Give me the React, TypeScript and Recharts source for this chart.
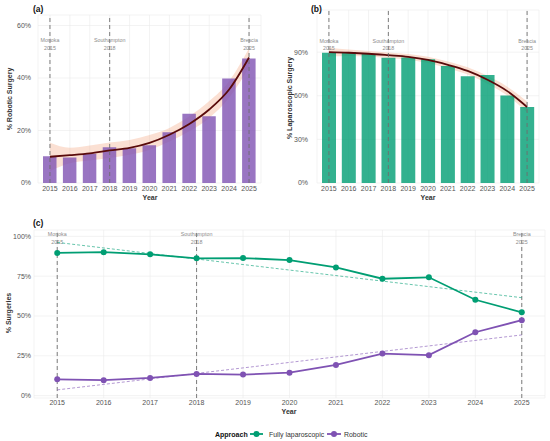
import React from 'react';
import {
  ComposedChart,
  LineChart,
  Bar,
  Area,
  Line,
  XAxis,
  YAxis,
  CartesianGrid,
  ReferenceLine,
} from 'recharts';

const years = [2015, 2016, 2017, 2018, 2019, 2020, 2021, 2022, 2023, 2024, 2025];

const robotic = [10.2, 9.7, 11.1, 13.6, 13.2, 14.4, 19.3, 26.4, 25.4, 39.8, 47.4];
const laparoscopic = [89.6, 90.1, 88.7, 86.2, 86.4, 85.1, 80.5, 73.4, 74.3, 60.2, 52.3];

// smoothed fits with their confidence band (a) and (b)
const roboticSmooth = [10.0, 10.6, 11.3, 12.4, 13.4, 15.3, 18.4, 22.5, 28.0, 35.6, 47.8];
const roboticLow = [4.5, 7.5, 8.6, 9.5, 10.8, 12.6, 15.8, 19.7, 24.8, 32.5, 44.0];
const roboticHigh = [15.3, 13.4, 14.3, 15.4, 16.4, 18.3, 21.0, 25.4, 31.2, 38.8, 51.3];

const lapSmooth = [90.0, 89.6, 88.9, 87.9, 86.8, 84.7, 81.3, 77.1, 71.0, 63.2, 52.3];
const lapLow = [87.0, 87.4, 87.0, 86.0, 84.8, 82.6, 79.0, 74.6, 68.3, 60.2, 48.5];
const lapHigh = [93.0, 91.8, 90.8, 89.8, 88.8, 86.8, 83.6, 79.6, 73.7, 66.2, 56.0];

// linear trend end points in panel (c)
const trendYears = [2015, 2025];
const lapTrend = [96.2, 61.5];
const robTrend = [3.6, 38.1];

const milestoneYears = [2015, 2018, 2025];
const milestoneNames = ['Morioka', 'Southampton', 'Brescia'];

const ticksA = [0, 20, 40, 60];
const ticksB = [0, 30, 60, 90];
const ticksC = [0, 25, 50, 75, 100];

const GREEN = '#009E73';
const PURPLE = '#7F52B3';
const FIT = '#5a0b0b';
const BAND = '#F4A582';
const FONT = '"Liberation Sans", Arial, sans-serif';

const data = years.map((year, i) => ({
  year,
  robotic: robotic[i],
  laparoscopic: laparoscopic[i],
  robSmooth: roboticSmooth[i],
  robBand: [roboticLow[i], roboticHigh[i]],
  lapSmooth: lapSmooth[i],
  lapBand: [lapLow[i], lapHigh[i]],
}));

const lapTrendData = trendYears.map((year, i) => ({ year, value: lapTrend[i] }));
const robTrendData = trendYears.map((year, i) => ({ year, value: robTrend[i] }));

const tickStyle = { fontSize: 7, fill: '#555', fontFamily: FONT };
const pct = (v: number) => `${v}%`;

const milestoneLabel = (name: string, year: number, dy1: number, dy2: number) => (props: any) => {
  const vb = props.viewBox || {};
  return (
    <g>
      <text x={vb.x} y={vb.y + dy1} textAnchor="middle" dominantBaseline="central" fontSize={5.3} fill="#8c8c8c" fontFamily={FONT}>
        {name}
      </text>
      <text x={vb.x} y={vb.y + dy2} textAnchor="middle" dominantBaseline="central" fontSize={5.3} fill="#8c8c8c" fontFamily={FONT}>
        {year}
      </text>
    </g>
  );
};

const milestones = (dy1: number, dy2: number) =>
  milestoneYears.map((y, i) => (
    <ReferenceLine
      key={y}
      x={y}
      stroke="#6e6e6e"
      strokeWidth={0.9}
      strokeDasharray="4 3"
      label={milestoneLabel(milestoneNames[i], y, dy1, dy2)}
    />
  ));

const PanelA = () => (
  <ComposedChart width={275} height={200} data={data} margin={{ top: 15, right: 14, bottom: 0, left: 0 }}>
    <CartesianGrid stroke="#ebebeb" strokeWidth={0.6} />
    <XAxis dataKey="year" axisLine={false} tickLine={false} tickSize={0} tickMargin={3} height={17} padding={{ left: 2, right: 2 }} tick={tickStyle} interval={0} />
    <YAxis domain={[0, 64]} ticks={ticksA} tickFormatter={pct} axisLine={false} tickLine={false} tickSize={0} tickMargin={7} width={38} tick={tickStyle} allowDataOverflow />
    <Bar dataKey="robotic" fill={PURPLE} fillOpacity={0.8} barSize={13.5} isAnimationActive={false} />
    <Area type="monotone" dataKey="robBand" stroke="none" fill={BAND} fillOpacity={0.35} isAnimationActive={false} />
    <Line type="monotone" dataKey="robSmooth" stroke={FIT} strokeWidth={1.8} dot={false} activeDot={false} isAnimationActive={false} />
    {milestones(25, 33)}
  </ComposedChart>
);

const PanelB = () => (
  <ComposedChart width={275} height={200} data={data} margin={{ top: 10, right: 11, bottom: 0, left: 0 }}>
    <CartesianGrid stroke="#ebebeb" strokeWidth={0.6} />
    <XAxis dataKey="year" axisLine={false} tickLine={false} tickSize={0} tickMargin={3} height={17} padding={{ left: 2, right: 2 }} tick={tickStyle} interval={0} />
    <YAxis domain={[0, 119]} ticks={ticksB} tickFormatter={pct} axisLine={false} tickLine={false} tickSize={0} tickMargin={9} width={42} tick={tickStyle} allowDataOverflow />
    <Bar dataKey="laparoscopic" fill={GREEN} fillOpacity={0.8} barSize={14} isAnimationActive={false} />
    <Area type="monotone" dataKey="lapBand" stroke="none" fill={BAND} fillOpacity={0.35} isAnimationActive={false} />
    <Line type="monotone" dataKey="lapSmooth" stroke={FIT} strokeWidth={1.8} dot={false} activeDot={false} isAnimationActive={false} />
    {milestones(31, 38)}
  </ComposedChart>
);

const PanelC = () => (
  <LineChart width={550} height={200} data={data} margin={{ top: 20, right: 5, bottom: 0, left: 0 }}>
    <CartesianGrid stroke="#ebebeb" strokeWidth={0.6} />
    <XAxis type="number" dataKey="year" domain={[2014.5, 2025.5]} ticks={years} axisLine={false} tickLine={false} tickSize={0} tickMargin={2} height={12} tick={tickStyle} interval={0} allowDataOverflow />
    <YAxis domain={[-1.5, 104]} ticks={ticksC} tickFormatter={pct} axisLine={false} tickLine={false} tickSize={0} tickMargin={3} width={34} tick={tickStyle} allowDataOverflow />
    {milestones(4, 12)}
    <Line data={lapTrendData} dataKey="value" stroke={GREEN} strokeOpacity={0.75} strokeWidth={0.8} strokeDasharray="3 2" dot={false} activeDot={false} isAnimationActive={false} />
    <Line data={robTrendData} dataKey="value" stroke={PURPLE} strokeOpacity={0.75} strokeWidth={0.8} strokeDasharray="3 2" dot={false} activeDot={false} isAnimationActive={false} />
    <Line dataKey="laparoscopic" stroke={GREEN} strokeWidth={1.8} dot={{ r: 3, fill: GREEN, stroke: GREEN, strokeWidth: 0 }} activeDot={false} isAnimationActive={false} />
    <Line dataKey="robotic" stroke={PURPLE} strokeWidth={1.8} dot={{ r: 3, fill: PURPLE, stroke: PURPLE, strokeWidth: 0 }} activeDot={false} isAnimationActive={false} />
  </LineChart>
);

const Titles = () => (
  <svg width={550} height={441} style={{ position: 'absolute', left: 0, top: 0, pointerEvents: 'none' }} fontFamily={FONT}>
    <text x={33} y={9} fontSize={8.5} fontWeight="bold" fill="#111" dominantBaseline="central">(a)</text>
    <text x={311} y={9} fontSize={8.5} fontWeight="bold" fill="#111" dominantBaseline="central">(b)</text>
    <text x={33} y={222.5} fontSize={8.5} fontWeight="bold" fill="#111" dominantBaseline="central">(c)</text>

    <text x={150} y={197} fontSize={7} fontWeight="bold" fill="#333" textAnchor="middle" dominantBaseline="central">Year</text>
    <text x={428} y={197} fontSize={7} fontWeight="bold" fill="#333" textAnchor="middle" dominantBaseline="central">Year</text>
    <text x={289} y={411.5} fontSize={7} fontWeight="bold" fill="#333" textAnchor="middle" dominantBaseline="central">Year</text>

    <text x={9} y={99} fontSize={7} fontWeight="bold" fill="#333" textAnchor="middle" dominantBaseline="central" transform="rotate(-90 9 99)">% Robotic Surgery</text>
    <text x={289} y={98} fontSize={7} fontWeight="bold" fill="#333" textAnchor="middle" dominantBaseline="central" transform="rotate(-90 289 98)">% Laparoscopic Surgery</text>
    <text x={8} y={313} fontSize={7} fontWeight="bold" fill="#333" textAnchor="middle" dominantBaseline="central" transform="rotate(-90 8 313)">% Surgeries</text>

    <text x={215} y={434} fontSize={7} fontWeight="bold" fill="#111" dominantBaseline="central">Approach</text>
    <line x1={250} x2={263} y1={434} y2={434} stroke={GREEN} strokeWidth={1.8} />
    <circle cx={256.5} cy={434} r={3} fill={GREEN} />
    <text x={269} y={434} fontSize={6.9} fill="#333" dominantBaseline="central">Fully laparoscopic</text>
    <line x1={327} x2={341} y1={434} y2={434} stroke={PURPLE} strokeWidth={1.8} />
    <circle cx={334} cy={434} r={3} fill={PURPLE} />
    <text x={344} y={434} fontSize={6.9} fill="#333" dominantBaseline="central">Robotic</text>
  </svg>
);

export default function App() {
  return (
    <div style={{ position: 'absolute', left: 0, top: 0, width: 550, height: 441, background: '#fff', fontFamily: FONT }}>
      <div style={{ position: 'absolute', left: 0, top: 0 }}>
        <PanelA />
      </div>
      <div style={{ position: 'absolute', left: 275, top: 0 }}>
        <PanelB />
      </div>
      <div style={{ position: 'absolute', left: 0, top: 210 }}>
        <PanelC />
      </div>
      <Titles />
    </div>
  );
}
